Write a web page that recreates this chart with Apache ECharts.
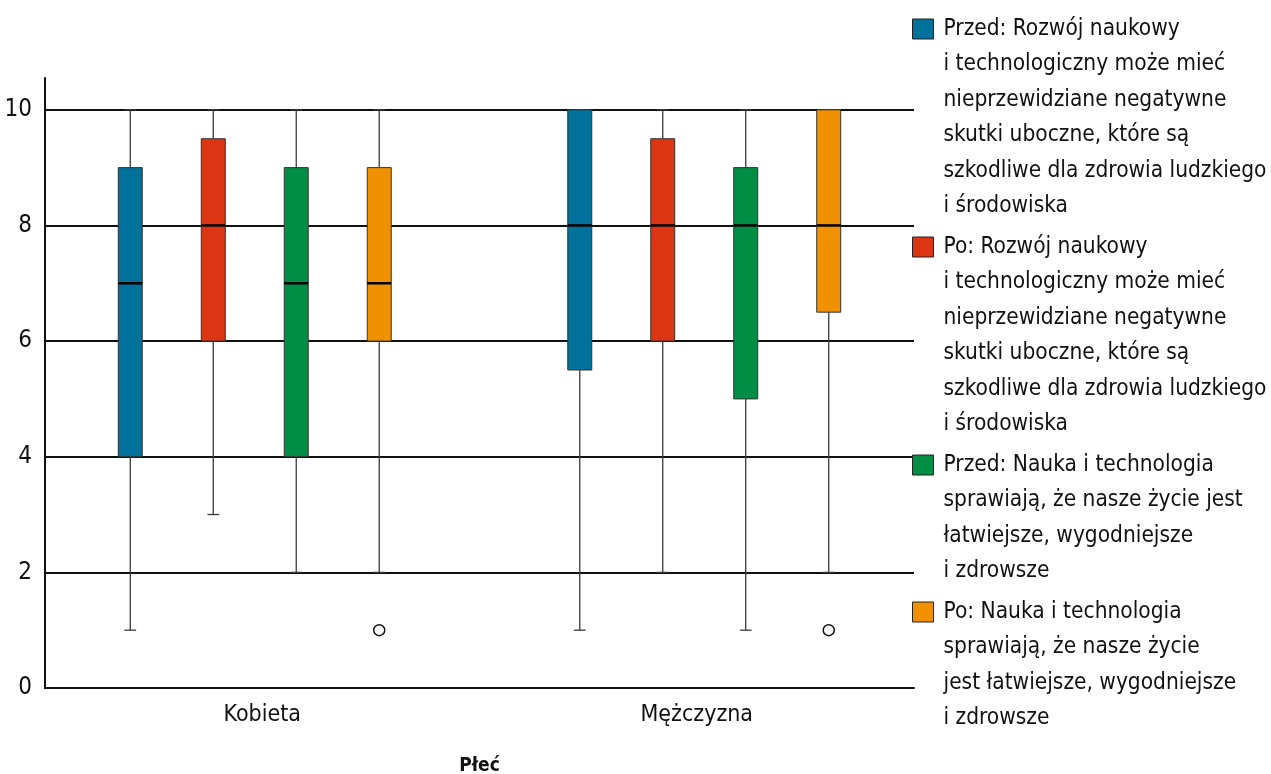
<!DOCTYPE html>
<html>
<head>
<meta charset="utf-8">
<title>Płeć – boxplot</title>
<style>
  html, body { margin: 0; padding: 0; background: #fff; }
  #chart { width: 1271px; height: 774px; }
</style>
<script src="https://cdn.jsdelivr.net/npm/echarts@6/dist/echarts.min.js"></script>
</head>
<body>
<div id="chart"></div>
<script>
// categories on the x axis
var categories = ['Kobieta', 'Mężczyzna'];

// legend / series names
var seriesNames = [
  'Przed: Rozwój naukowy\ni technologiczny może mieć\nnieprzewidziane negatywne\nskutki uboczne, które są\nszkodliwe dla zdrowia ludzkiego\ni środowiska',
  'Po: Rozwój naukowy\ni technologiczny może mieć\nnieprzewidziane negatywne\nskutki uboczne, które są\nszkodliwe dla zdrowia ludzkiego\ni środowiska',
  'Przed: Nauka i technologia\nsprawiają, że nasze życie jest\nłatwiejsze, wygodniejsze\ni zdrowsze',
  'Po: Nauka i technologia\nsprawiają, że nasze życie\njest łatwiejsze, wygodniejsze\ni zdrowsze'
];

// [min, Q1, median, Q3, max] for Kobieta, Mężczyzna
var przedRozwoj = [[1, 4, 7, 9, 10], [1, 5.5, 8, 10, 10]];
var poRozwoj    = [[3, 6, 8, 9.5, 10], [2, 6, 8, 9.5, 10]];
var przedNauka  = [[2, 4, 7, 9, 10], [1, 5, 8, 9, 10]];
var poNauka     = [[2, 6, 7, 9, 10], [2, 6.5, 8, 10, 10]];

// outliers: [category, value, series index]
var outliers = [['Kobieta', 1, 3], ['Mężczyzna', 1, 3]];

var yTicks = [0, 2, 4, 6, 8, 10];

var colors = ['#00719b', '#db3514', '#008e44', '#f19100'];
var FONT = "'Liberation Sans Narrow', 'DejaVu Sans Condensed', sans-serif";

var allStats = [przedRozwoj, poRozwoj, przedNauka, poNauka];

// box placement inside a category band (fractions of the band width)
var STEP = 0.191;     // distance between neighbouring boxes
var SPREAD = 0.0345;  // extra push of the two groups apart
var HALF = 0.0276;    // half box width
var CAP = 0.0135;     // half whisker cap

function offsetFor(idx, cat, band) {
  return (idx - (allStats.length - 1) / 2) * band * STEP +
         (cat - (categories.length - 1) / 2) * band * SPREAD;
}

function boxRenderer(idx) {
  return function (params, api) {
    var cat = api.value(0);
    var band = api.size([1, 0])[0];
    var pMin = api.coord([cat, api.value(1)]);
    var pQ1 = api.coord([cat, api.value(2)]);
    var pMed = api.coord([cat, api.value(3)]);
    var pQ3 = api.coord([cat, api.value(4)]);
    var pMax = api.coord([cat, api.value(5)]);
    var x = pMin[0] + offsetFor(idx, cat, band);
    var hw = band * HALF, cw = band * CAP;
    var wStyle = { stroke: '#3a3a3a', lineWidth: 1.3 };
    return {
      type: 'group',
      children: [
        { type: 'line', shape: { x1: x, y1: pQ1[1], x2: x, y2: pMin[1] }, style: wStyle },
        { type: 'line', shape: { x1: x - cw, y1: pMin[1], x2: x + cw, y2: pMin[1] }, style: wStyle },
        { type: 'line', shape: { x1: x, y1: pQ3[1], x2: x, y2: pMax[1] }, style: wStyle },
        { type: 'line', shape: { x1: x - cw, y1: pMax[1], x2: x + cw, y2: pMax[1] }, style: wStyle },
        { type: 'rect', shape: { x: x - hw, y: pQ3[1], width: hw * 2, height: pQ1[1] - pQ3[1] },
          style: { fill: colors[idx], stroke: '#333', lineWidth: 1 } },
        { type: 'line', shape: { x1: x - hw, y1: pMed[1], x2: x + hw, y2: pMed[1] },
          style: { stroke: '#000', lineWidth: 2.5 } }
      ]
    };
  };
}

var series = allStats.map(function (stats, i) {
  return {
    name: seriesNames[i],
    type: 'custom',
    renderItem: boxRenderer(i),
    encode: { x: 0, y: [1, 2, 3, 4, 5] },
    itemStyle: { color: colors[i], borderColor: '#222', borderWidth: 1 },
    data: stats.map(function (s, c) { return [categories[c]].concat(s); })
  };
});

series.push({
  name: 'outliers',
  type: 'custom',
  renderItem: function (params, api) {
    var cat = api.value(0);
    var band = api.size([1, 0])[0];
    var p = api.coord([cat, api.value(1)]);
    return {
      type: 'circle',
      shape: { cx: p[0] + offsetFor(api.value(2), cat, band), cy: p[1], r: 5.5 },
      style: { fill: '#fff', stroke: '#111', lineWidth: 1.5 }
    };
  },
  encode: { x: 0, y: 1 },
  data: outliers
});

// legend: icon aligned with the first text line
var LH = 35.5;
var boxLines = [11, 11, 11, 7];
var legendData = seriesNames.map(function (name, i) {
  var n = name.split('\n').length;
  var pt = (boxLines[i] - 1) * LH / 2;
  var pb = (boxLines[i] - 2 * n + 1) * LH / 2;
  return { name: name, textStyle: { padding: [pt, 0, pb, 5] } };
});

var chart = echarts.init(document.getElementById('chart'));
chart.setOption({
  animation: false,
  textStyle: { fontFamily: FONT },
  grid: { left: 45, right: 357, top: 78, bottom: 86, containLabel: false, outerBoundsMode: 'none' },
  legend: {
    orient: 'vertical',
    left: 912,
    top: -166.25,
    height: 1000,
    padding: 0,
    itemGap: 5 - 5 * LH,
    itemWidth: 21,
    itemHeight: 20,
    icon: 'rect',
    selectedMode: false,
    itemStyle: { borderColor: '#222', borderWidth: 1 },
    textStyle: {
      fontFamily: FONT, fontSize: 22.5, color: '#111', lineHeight: LH,
      backgroundColor: 'rgba(0,0,0,0)', rich: { t: {} }
    },
    data: legendData
  },
  xAxis: {
    type: 'category',
    data: categories,
    name: 'Płeć',
    nameLocation: 'middle',
    nameGap: 69,
    nameTextStyle: { fontFamily: FONT, fontSize: 19, fontWeight: 'bold', color: '#111' },
    axisLine: { lineStyle: { color: '#111', width: 2 } },
    axisTick: { show: false },
    axisLabel: { fontSize: 23, color: '#111', margin: 16, fontFamily: FONT },
    splitLine: { show: false }
  },
  yAxis: {
    type: 'value',
    min: yTicks[0],
    max: 10.55,
    interval: yTicks[1] - yTicks[0],
    axisLine: { show: true, lineStyle: { color: '#111', width: 2 } },
    axisTick: { show: false },
    axisLabel: { fontSize: 24, color: '#111', margin: 13, showMaxLabel: false, fontFamily: FONT },
    splitLine: { show: true, showMaxLine: false, lineStyle: { color: '#111', width: 2 } }
  },
  series: series
});
</script>
</body>
</html>
